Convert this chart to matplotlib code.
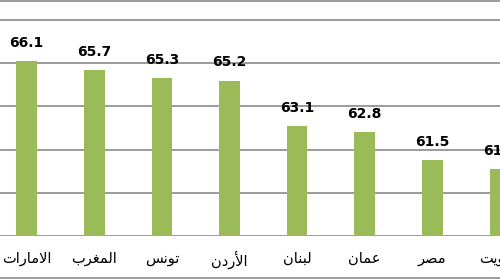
"""Bar chart of index values by Arab country (cropped view)."""

import matplotlib
matplotlib.use("Agg")

import matplotlib.pyplot as plt
from matplotlib.lines import Line2D
import numpy as np

countries = ["الامارات", "المغرب", "تونس", "الأردن", "لبنان", "عمان", "مصر", "الكويت"]
values = [66.1, 65.7, 65.3, 65.2, 63.1, 62.8, 61.5, 61.1]
y_ticks = [58, 60, 62, 64, 66, 68]

# presentation forms: isolated, final, initial, medial (None = right-joining only)
FORMS = {
    "ا": ("\uFE8D", "\uFE8E", None, None),
    "أ": ("\uFE83", "\uFE84", None, None),
    "ب": ("\uFE8F", "\uFE90", "\uFE91", "\uFE92"),
    "ت": ("\uFE95", "\uFE96", "\uFE97", "\uFE98"),
    "د": ("\uFEA9", "\uFEAA", None, None),
    "ر": ("\uFEAD", "\uFEAE", None, None),
    "س": ("\uFEB1", "\uFEB2", "\uFEB3", "\uFEB4"),
    "ص": ("\uFEB9", "\uFEBA", "\uFEBB", "\uFEBC"),
    "ع": ("\uFEC9", "\uFECA", "\uFECB", "\uFECC"),
    "غ": ("\uFECD", "\uFECE", "\uFECF", "\uFED0"),
    "ك": ("\uFED9", "\uFEDA", "\uFEDB", "\uFEDC"),
    "ل": ("\uFEDD", "\uFEDE", "\uFEDF", "\uFEE0"),
    "م": ("\uFEE1", "\uFEE2", "\uFEE3", "\uFEE4"),
    "ن": ("\uFEE5", "\uFEE6", "\uFEE7", "\uFEE8"),
    "و": ("\uFEED", "\uFEEE", None, None),
    "ي": ("\uFEF1", "\uFEF2", "\uFEF3", "\uFEF4"),
    "لا": ("\uFEFB", "\uFEFC", None, None),
    "لأ": ("\uFEF7", "\uFEF8", None, None),
}


def shape_arabic(word):
    """Join letters into presentation forms and return them in visual order."""
    units = []
    i = 0
    while i < len(word):
        pair = word[i:i + 2]
        if pair in ("لا", "لأ"):
            units.append(pair)
            i += 2
        else:
            units.append(word[i])
            i += 1
    out = []
    for k, u in enumerate(units):
        iso, fin, ini, med = FORMS[u]
        prev_joins = k > 0 and FORMS[units[k - 1]][2] is not None
        next_joins = k < len(units) - 1 and ini is not None
        if prev_joins and next_joins:
            out.append(med)
        elif prev_joins:
            out.append(fin)
        elif next_joins:
            out.append(ini)
        else:
            out.append(iso)
    return "".join(reversed(out))


bar_color = "#9BBB59"
grid_color = "#8A8A8A"

fig = plt.figure(figsize=(5, 2.8), dpi=100)
ax = fig.add_axes([0, 44.3 / 280, 1, 235.7 / 280])

x = np.arange(len(values))
bars = ax.bar(x, values, width=0.305, color=bar_color, zorder=3)
ax.bar_label(bars, labels=[f"{v:.1f}" for v in values], padding=8,
             fontsize=10, fontweight="bold", color="black")

ax.set_xlim(-0.393, 6.97)
ax.set_ylim(58, 58 + 235.7 / 21.55)
for t in y_ticks:
    ax.axhline(t, color=grid_color, linewidth=1.2, zorder=1)

ax.set_xticks(x)
ax.set_xticklabels([shape_arabic(c) for c in countries], fontsize=10.5)
ax.tick_params(axis="x", length=0, pad=11)
ax.set_yticks([])
for s in ax.spines.values():
    s.set_visible(False)

# outer chart border lines
fig.add_artist(Line2D([0, 1], [1 - 1 / 280, 1 - 1 / 280], color=grid_color, linewidth=1.2))
fig.add_artist(Line2D([0, 1], [2.3 / 280, 2.3 / 280], color=grid_color, linewidth=1.2))

fig.savefig("out.png", dpi=100)
plt.close(fig)
